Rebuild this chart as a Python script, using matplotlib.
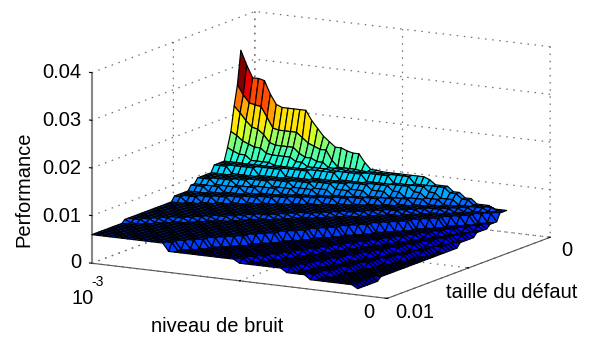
import numpy as np
import matplotlib
matplotlib.use('Agg')
import matplotlib.pyplot as plt

plt.rcParams['font.family'] = ['Liberation Sans', 'DejaVu Sans']

# noise level along the surface columns
noise = [100, 98, 96, 94, 92, 90, 88, 86, 84, 82, 80, 78, 76, 74, 72, 70,
         68, 66, 64, 62, 60, 58, 56, 54, 52, 50, 48, 46, 44, 42, 40, 38,
         36, 34, 32, 30, 28, 26, 24, 22, 20, 18, 16, 14, 12, 10]  # x 1e-5

# defect size along the surface rows
defect = [.01000, .00980, .00959, .00939, .00919, .00899, .00878, .00858,
          .00838, .00817, .00797, .00777, .00756, .00736, .00716, .00696,
          .00675, .00655, .00635, .00614, .00594, .00574, .00553, .00533,
          .00513, .00493, .00472, .00452, .00432, .00411, .00391, .00371,
          .00350, .00330, .00310, .00289, .00269, .00249, .00229, .00208,
          .00188, .00168, .00147, .00127, .00107, .00086]

# performance read row by row, as (value x 1e-4, number of columns at it)
perf_rows = [
    [(60, 13), (44, 12), (37, 8), (29, 4), (20, 8), (13, 1)],
    [(60, 14), (44, 12), (37, 8), (29, 4), (20, 7), (13, 1)],
    [(60, 14), (44, 12), (37, 8), (29, 4), (20, 7), (13, 1)],
    [(60, 15), (44, 12), (37, 7), (29, 4), (20, 7), (13, 1)],
    [(60, 16), (44, 12), (37, 7), (29, 4), (20, 6), (13, 1)],
    [(60, 17), (44, 11), (37, 7), (29, 4), (20, 6), (13, 1)],
    [(60, 17), (44, 12), (37, 6), (29, 4), (20, 6), (13, 1)],
    [(60, 18), (44, 11), (37, 7), (29, 3), (20, 7)],
    [(60, 19), (44, 11), (37, 6), (29, 4), (20, 6)],
    [(60, 20), (44, 10), (37, 6), (29, 4), (20, 6)],
    [(66, 1), (60, 20), (44, 10), (37, 6), (29, 3), (20, 6)],
    [(66, 3), (60, 18), (44, 10), (37, 6), (29, 3), (20, 6)],
    [(66, 4), (60, 18), (44, 10), (37, 5), (29, 4), (20, 5)],
    [(66, 5), (60, 18), (44, 9), (37, 6), (29, 3), (20, 5)],
    [(66, 6), (60, 18), (44, 9), (37, 5), (29, 3), (20, 5)],
    [(66, 8), (60, 16), (44, 9), (37, 5), (29, 3), (20, 5)],
    [(66, 9), (60, 16), (44, 9), (37, 5), (29, 3), (20, 4)],
    [(66, 10), (60, 16), (44, 8), (37, 5), (29, 3), (20, 4)],
    [(66, 11), (60, 16), (44, 8), (37, 5), (29, 2), (20, 4)],
    [(66, 13), (60, 14), (44, 8), (37, 5), (29, 3), (20, 3)],
    [(66, 14), (60, 14), (44, 8), (37, 4), (29, 3), (20, 3)],
    [(66, 15), (60, 14), (44, 7), (37, 5), (29, 2), (20, 3)],
    [(66, 16), (60, 14), (44, 7), (37, 4), (29, 2), (20, 3)],
    [(66, 18), (60, 12), (44, 7), (37, 4), (29, 3), (20, 2)],
    [(66, 19), (60, 12), (44, 7), (37, 4), (29, 2), (20, 2)],
    [(76, 2), (66, 18), (60, 12), (44, 6), (37, 4), (29, 2), (20, 2)],
    [(76, 4), (66, 17), (60, 12), (44, 6), (37, 3), (29, 2), (20, 2)],
    [(76, 6), (66, 17), (60, 10), (44, 6), (37, 4), (29, 2), (20, 1)],
    [(76, 8), (66, 16), (60, 10), (44, 6), (37, 3), (29, 2), (20, 1)],
    [(76, 10), (66, 15), (60, 10), (44, 5), (37, 3), (29, 2), (20, 1)],
    [(86, 3), (76, 9), (66, 14), (60, 10), (44, 5), (37, 3), (29, 1), (20, 1)],
    [(86, 5), (76, 9), (66, 14), (60, 9), (44, 4), (37, 3), (29, 2)],
    [(96, 3), (86, 5), (76, 8), (66, 13), (60, 8), (44, 5), (37, 2), (29, 2)],
    [(96, 6), (86, 4), (76, 8), (66, 12), (60, 8), (44, 4), (37, 3), (29, 1)],
    [(96, 8), (86, 5), (76, 7), (66, 11), (60, 8), (44, 4), (37, 2), (29, 1)],
    [(96, 11), (86, 4), (76, 7), (66, 11), (60, 7), (44, 3), (37, 2), (29, 1)],
    [(96, 14), (86, 4), (76, 6), (66, 10), (60, 6), (44, 4), (37, 2)],
    [(110, 3), (96, 14), (86, 3), (76, 6), (66, 9), (60, 6), (44, 3), (37, 2)],
    [(110, 7), (96, 13), (86, 3), (76, 5), (66, 8), (60, 6), (44, 3), (37, 1)],
    [(110, 11), (96, 11), (86, 3), (76, 5), (66, 8), (60, 5), (44, 2), (37, 1)],
    [(110, 15), (96, 10), (86, 3), (76, 4), (66, 7), (60, 4), (44, 3)],
    [(136, 1), (130, 1), (125, 2), (115, 4), (110, 11), (96, 9), (86, 2),
     (76, 4), (66, 6), (60, 4), (44, 2)],
    [(167, 1), (160, 1), (150, 1), (145, 1), (140, 2), (130, 1), (128, 4),
     (120, 2), (112, 4), (110, 6), (96, 8), (86, 2), (76, 3), (66, 5),
     (60, 4), (44, 1)],
    [(218, 1), (205, 1), (190, 1), (178, 1), (175, 1), (165, 1), (150, 1),
     (146, 4), (135, 1), (128, 2), (122, 2), (112, 3), (110, 8), (96, 6),
     (86, 2), (76, 3), (66, 5), (60, 3)],
    [(260, 1), (240, 1), (225, 1), (222, 1), (220, 1), (199, 1), (178, 1),
     (175, 4), (165, 1), (155, 1), (150, 1), (145, 2), (125, 1), (112, 4),
     (110, 9), (96, 6), (86, 2), (76, 2), (66, 4), (60, 2)],
    [(330, 1), (300, 1), (275, 2), (272, 1), (245, 1), (225, 1), (220, 5),
     (200, 1), (185, 1), (170, 1), (160, 1), (150, 2), (145, 1), (142, 2),
     (125, 1), (112, 2), (110, 8), (105, 1), (96, 3), (86, 2), (76, 2),
     (66, 3), (60, 3)],
]

z_ticks = [0, .01, .02, .03, .04]
z_labels = ['0', '0.01', '0.02', '0.03', '0.04']
z_label_y = [263, 216, 168, 120, 72]

perf = np.array([np.repeat([v for v, n in row], [n for v, n in row]) for row in perf_rows]) * 1e-4
# back row first: each facet takes the colour of its upper corner, like matlab's surf
perf = perf[::-1]
X, Y = np.meshgrid(np.array(noise) * 1e-5, defect[::-1])
colors = plt.get_cmap('jet')(plt.Normalize(0, .033)(perf))

W, H = 591, 340
fig = plt.figure(figsize=(W / 100, H / 100), dpi=100)
ax = fig.add_axes([65.3 / W, -70.7 / H, 498 / W, 498 / H], projection='3d', proj_type='ortho')
ax.view_init(elev=12.2, azim=119.4)
ax.set_box_aspect((339, 332, 195))

surf = ax.plot_surface(X, Y, perf, rstride=1, cstride=1, facecolors=colors, shade=False,
                       linewidth=0.85, antialiased=True)
surf.set_edgecolor('k')

ax.set_xlim(0, 1e-3)
ax.set_ylim(0, .01)
ax.set_zlim(0, .04)
ax.set_xticks([0, 5e-4, 1e-3])
ax.set_yticks([0, .005, .01])
ax.set_zticks(z_ticks)
ax.set_xticklabels([])
ax.set_yticklabels([])
ax.set_zticklabels([])

for axis in (ax.xaxis, ax.yaxis, ax.zaxis):
    axis.set_pane_color((1, 1, 1, 0))
    axis.pane.set_edgecolor((1, 1, 1, 0))
    axis.line.set_color('#555555')
    axis.line.set_linewidth(0.8)
    axis._axinfo['grid'].update(color='#707070', linestyle=(0, (1.2, 4.5)), linewidth=0.9)
    axis._axinfo['tick'].update(inward_factor=0.0, outward_factor=0.06)
ax.zaxis.line.set_color('#888888')
ax.zaxis.line.set_linewidth(1.5)
ax.zaxis._axinfo['tick'].update(inward_factor=0.0, outward_factor=0.1)
ax.zaxis._axinfo['juggled'] = (1, 2, 0)  # z axis on the left corner


def label(px, py, s, size=14.5, **kw):
    kw.setdefault('ha', 'center')
    fig.text(px / W, 1 - py / H, s, fontsize=size, va='center', **kw)


for lab, py in zip(z_labels, z_label_y):
    label(81, py, lab, ha='right')
label(24, 189, 'Performance', rotation=90)
label(82.5, 299, '10')
label(97.5, 282, '-3', size=10)
label(369, 313, '0')
label(217.5, 327, 'niveau de bruit')
label(415, 312, '0.01')
label(567, 250, '0')
label(511.5, 293, 'taille du défaut')

fig.savefig('out.png', dpi=100)
